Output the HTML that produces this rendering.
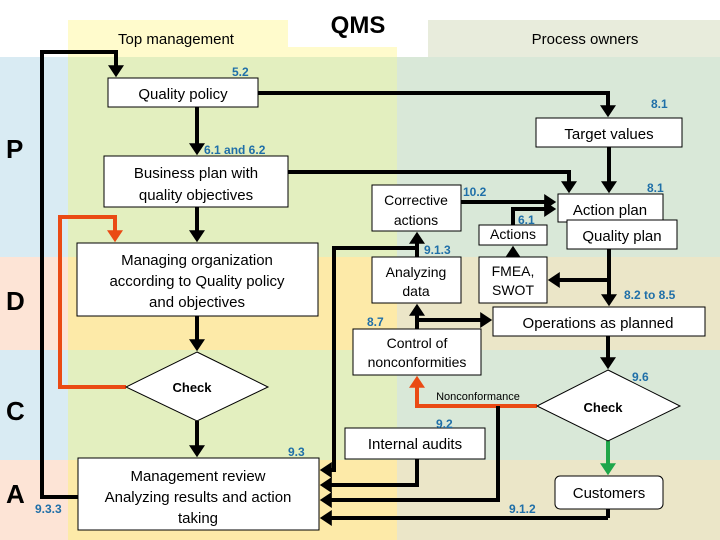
<!DOCTYPE html>
<html><head><meta charset="utf-8"><style>
html,body{margin:0;padding:0;background:#fff}
svg{display:block}
text{font-family:"Liberation Sans",sans-serif}
.t{font-size:14px;fill:#000;text-anchor:middle}
.n{font-size:12px;font-weight:bold;fill:#1f6fa8}
.b{fill:#fff;stroke:#000;stroke-width:1}
.l{fill:none;stroke:#000;stroke-width:4}
.big{font-size:26px;font-weight:bold;fill:#000}
</style></head><body>
<svg width="720" height="540" viewBox="0 0 720 540" xmlns="http://www.w3.org/2000/svg">
<defs>
<marker id="a" markerWidth="4" markerHeight="4" refX="2.2" refY="2" orient="auto" markerUnits="strokeWidth"><path d="M0,0 L3,2 L0,4 z" fill="#000"/></marker>
<marker id="r" markerWidth="4" markerHeight="4" refX="2.2" refY="2" orient="auto" markerUnits="strokeWidth"><path d="M0,0 L3,2 L0,4 z" fill="#ea4a14"/></marker>
<marker id="g" markerWidth="4" markerHeight="4" refX="2.2" refY="2" orient="auto" markerUnits="strokeWidth"><path d="M0,0 L3,2 L0,4 z" fill="#1fa64a"/></marker>
</defs>
<!-- backgrounds -->
<rect x="68" y="20" width="329" height="37" fill="#fffbcc"/>
<rect x="428" y="20" width="292" height="37" fill="#e8ecdc"/>
<rect x="288" y="18" width="140" height="29" fill="#fff"/>
<rect x="0" y="57" width="68" height="200" fill="#d9ebf3"/>
<rect x="0" y="257" width="68" height="93" fill="#fde4d6"/>
<rect x="0" y="350" width="68" height="110" fill="#d9ebf3"/>
<rect x="0" y="460" width="68" height="80" fill="#fde4d6"/>
<rect x="68" y="57" width="329" height="200" fill="#e3efbf"/>
<rect x="68" y="257" width="329" height="93" fill="#fdeaa8"/>
<rect x="68" y="350" width="329" height="110" fill="#e3efbf"/>
<rect x="68" y="460" width="329" height="80" fill="#fdeaa8"/>
<rect x="397" y="57" width="323" height="200" fill="#d9e8d8"/>
<rect x="397" y="257" width="323" height="93" fill="#ebe6c8"/>
<rect x="397" y="350" width="323" height="110" fill="#d9e8d8"/>
<rect x="397" y="460" width="323" height="80" fill="#ebe6c8"/>

<text x="176" y="44" class="t" style="font-size:15px">Top management</text>
<text x="358" y="33" style="font-size:24px;font-weight:bold;text-anchor:middle">QMS</text>
<text x="585" y="44" class="t" style="font-size:15px">Process owners</text>

<text x="6" y="158" class="big">P</text>
<text x="6" y="310" class="big">D</text>
<text x="6" y="420" class="big">C</text>
<text x="6" y="503" class="big">A</text>

<!-- lines -->
<path class="l" d="M78,497 H42 V52 H116 V74" marker-end="url(#a)"/>
<path class="l" d="M258,93 H608 V114" marker-end="url(#a)"/>
<path class="l" d="M197,107 V152" marker-end="url(#a)"/>
<path class="l" d="M288,172 H569 V190" marker-end="url(#a)"/>
<path class="l" d="M609,147 V190" marker-end="url(#a)"/>
<path class="l" d="M197,207 V239" marker-end="url(#a)"/>
<path class="l" d="M126,387 H60 V217 H115 V239" style="stroke:#ea4a14" marker-end="url(#r)"/>
<path class="l" d="M197,316 V348" marker-end="url(#a)"/>
<path class="l" d="M197,421 V454" marker-end="url(#a)"/>
<path class="l" d="M461,202 H553" marker-end="url(#a)"/>
<path class="l" d="M513,225 V209 H553" marker-end="url(#a)"/>
<path class="l" d="M417,257 V235" marker-end="url(#a)"/>
<path class="l" d="M417,248 H334 V470 H323" marker-end="url(#a)"/>
<path class="l" d="M513,257 V249" marker-end="url(#a)"/>
<path class="l" d="M609,249 V303" marker-end="url(#a)"/>
<path class="l" d="M609,280 H551" marker-end="url(#a)"/>
<path class="l" d="M417,329 V307" marker-end="url(#a)"/>
<path class="l" d="M417,320 H489" marker-end="url(#a)"/>
<path class="l" d="M608,336 V366" marker-end="url(#a)"/>
<path class="l" d="M537,406 H417 V379" style="stroke:#ea4a14" marker-end="url(#r)"/>
<path class="l" d="M498,406 V500 H323" marker-end="url(#a)"/>
<path class="l" d="M417,459 V485 H323" marker-end="url(#a)"/>
<path class="l" d="M608,518 H323" marker-end="url(#a)"/>
<path class="l" d="M608,509 V518"/>
<path class="l" d="M608,441 V472" style="stroke:#1fa64a" marker-end="url(#g)"/>

<!-- boxes -->
<rect class="b" x="108" y="78" width="150" height="29"/>
<text x="183" y="99" class="t" style="font-size:15px">Quality policy</text>
<rect class="b" x="104" y="156" width="184" height="51"/>
<text x="196" y="178" class="t" style="font-size:15px">Business plan with</text>
<text x="196" y="200" class="t" style="font-size:15px">quality objectives</text>
<rect class="b" x="77" y="243" width="241" height="73"/>
<text x="197" y="265" class="t" style="font-size:15px">Managing organization</text>
<text x="197" y="286" class="t" style="font-size:15px">according to Quality policy</text>
<text x="197" y="307" class="t" style="font-size:15px">and objectives</text>
<polygon class="b" points="197,352 268,387 197,421 126,387"/>
<text x="192" y="392" class="t" style="font-weight:bold;font-size:13px">Check</text>
<rect class="b" x="78" y="458" width="241" height="72"/>
<text x="198" y="481" class="t" style="font-size:15px">Management review</text>
<text x="198" y="502" class="t" style="font-size:15px">Analyzing results and action</text>
<text x="198" y="523" class="t" style="font-size:15px">taking</text>

<rect class="b" x="536" y="118" width="146" height="29"/>
<text x="609" y="139" class="t" style="font-size:15px">Target values</text>
<rect class="b" x="372" y="185" width="89" height="46"/>
<text x="416" y="205" class="t">Corrective</text>
<text x="416" y="225" class="t">actions</text>
<rect class="b" x="372" y="257" width="89" height="46"/>
<text x="416" y="277" class="t">Analyzing</text>
<text x="416" y="296" class="t">data</text>
<rect class="b" x="479" y="225" width="68" height="20"/>
<text x="513" y="239" class="t">Actions</text>
<rect class="b" x="479" y="257" width="68" height="46"/>
<text x="513" y="276" class="t">FMEA,</text>
<text x="513" y="295" class="t">SWOT</text>
<rect class="b" x="558" y="194" width="105" height="28"/>
<text x="610" y="215" class="t" style="font-size:15px">Action plan</text>
<rect class="b" x="567" y="220" width="110" height="29"/>
<text x="622" y="241" class="t" style="font-size:15px">Quality plan</text>
<rect class="b" x="493" y="307" width="212" height="29"/>
<text x="598" y="328" class="t" style="font-size:15px">Operations as planned</text>
<rect class="b" x="353" y="329" width="128" height="46"/>
<text x="417" y="348" class="t">Control of</text>
<text x="417" y="367" class="t">nonconformities</text>
<polygon class="b" points="608,370 680,406 608,441 537,406"/>
<text x="603" y="412" class="t" style="font-weight:bold;font-size:13px">Check</text>
<text x="478" y="400" class="t" style="font-size:11px">Nonconformance</text>
<rect class="b" x="345" y="428" width="140" height="31"/>
<text x="415" y="449" class="t" style="font-size:15px">Internal audits</text>
<rect class="b" x="555" y="476" width="108" height="33" rx="5"/>
<text x="609" y="498" class="t" style="font-size:15px">Customers</text>

<!-- clause numbers -->
<text x="232" y="76" class="n">5.2</text>
<text x="651" y="108" class="n">8.1</text>
<text x="204" y="154" class="n">6.1 and 6.2</text>
<text x="463" y="196" class="n">10.2</text>
<text x="518" y="224" class="n">6.1</text>
<text x="647" y="192" class="n">8.1</text>
<text x="424" y="254" class="n">9.1.3</text>
<text x="624" y="299" class="n">8.2 to 8.5</text>
<text x="367" y="326" class="n">8.7</text>
<text x="632" y="381" class="n">9.6</text>
<text x="436" y="428" class="n">9.2</text>
<text x="288" y="456" class="n">9.3</text>
<text x="35" y="513" class="n">9.3.3</text>
<text x="509" y="513" class="n">9.1.2</text>
</svg>
</body></html>
